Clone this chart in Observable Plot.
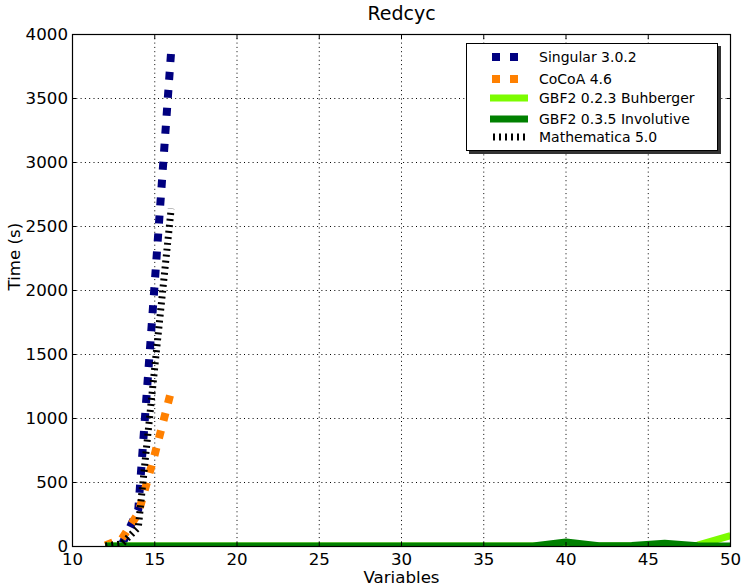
<!DOCTYPE html>
<html>
<head>
<meta charset="utf-8">
<script src="https://cdn.jsdelivr.net/npm/d3@7"></script>
<script src="https://cdn.jsdelivr.net/npm/@observablehq/plot@0.6"></script>
<style>
  body { margin: 0; background: white; }
  #wrap { position: relative; width: 742px; height: 586px; font-family: "DejaVu Sans", sans-serif; }
  #legend { position: absolute; left: 466px; top: 43px; width: 250px; height: 106px;
    border: 1px solid black; background: white; box-shadow: 3px 3px 0 #333; }
  #legend .row { position: absolute; left: 0; height: 20px; width: 250px; }
  #legend svg { position: absolute; left: 0; top: 0; }
  #legend span { position: absolute; left: 72px; top: 0; line-height: 20px; font-size: 14px; color: black; white-space: nowrap; }
</style>
</head>
<body>
<div id="wrap"></div>
<script>
// ---- data ----
const xTicks = [10, 15, 20, 25, 30, 35, 40, 45, 50];
const yTicks = [0, 500, 1000, 1500, 2000, 2500, 3000, 3500, 4000];

const smallX = [12, 13, 14, 15, 16];
const singular = [1, 15, 290, 2060, 3875];
const cocoa = [8, 60, 260, 720, 1215];
const mathematica = [5, 20, 150, 1400, 2640];

const gbfX = [12, 14, 16, 18, 20, 22, 24, 26, 28, 30, 32, 34, 36, 38, 40, 42, 44, 46, 48, 50];
const buhberger = [3, 3, 3, 3, 3, 3, 3, 3, 3, 3, 3, 3, 3, 3, 3, 3, 3, 3, 10, 85];
const involutive = [4, 4, 4, 4, 4, 4, 4, 4, 4, 4, 4, 4, 4, 4, 35, 6, 8, 25, 6, 4];

const seriesNames = ["Singular 3.0.2", "CoCoA 4.6", "GBF2 0.2.3 Buhberger", "GBF2 0.3.5 Involutive", "Mathematica 5.0"];
const seriesColors = ["#000080", "#ff8000", "#7cfc00", "#008000", "#000000"];

const titleText = "Redcyc";
const xLabel = "Variables";
const yLabel = "Time (s)";

// ---- build tables ----
const toRows = (xs, ys) => xs.map((x, i) => ({x, y: ys[i]}));
const singularRows = toRows(smallX, singular);
const cocoaRows = toRows(smallX, cocoa);
const mathRows = toRows(smallX, mathematica);
const buhRows = toRows(gbfX, buhberger);
const invRows = toRows(gbfX, involutive);

const lineStyles = [
  {strokeWidth: 8, strokeDasharray: "8,10", strokeLinecap: "butt"},
  {strokeWidth: 8, strokeDasharray: "8,10", strokeLinecap: "butt"},
  {strokeWidth: 7, strokeLinecap: "butt"},
  {strokeWidth: 7, strokeLinecap: "butt"},
  {strokeWidth: 7, strokeDasharray: "2,4", strokeLinecap: "butt"}
];
// legend swatch extents (px inside legend box)
const swatchX = [[25, 52], [25, 52], [23, 61], [23, 61], [26, 58]];

const grid = {stroke: "black", strokeOpacity: 1, strokeWidth: 1, strokeDasharray: "1,3.3"};
const plain = d => String(d);

const chart = Plot.plot({
  width: 742,
  height: 586,
  marginLeft: 72,
  marginRight: 12,
  marginTop: 34,
  marginBottom: 40,
  style: {fontFamily: "DejaVu Sans, sans-serif", fontSize: "16.67px", background: "white", color: "black", overflow: "visible"},
  x: {domain: [10, 50]},
  y: {domain: [0, 4000]},
  marks: [
    Plot.gridX(xTicks, grid),
    Plot.gridY(yTicks, grid),
    Plot.line(singularRows, {x: "x", y: "y", stroke: seriesColors[0], clip: true, ...lineStyles[0]}),
    Plot.line(cocoaRows, {x: "x", y: "y", stroke: seriesColors[1], clip: true, ...lineStyles[1]}),
    Plot.line(buhRows, {x: "x", y: "y", stroke: seriesColors[2], clip: true, ...lineStyles[2]}),
    Plot.line(invRows, {x: "x", y: "y", stroke: seriesColors[3], clip: true, ...lineStyles[3]}),
    Plot.line(mathRows, {x: "x", y: "y", stroke: seriesColors[4], clip: true, ...lineStyles[4]}),
    Plot.frame({stroke: "black", strokeWidth: 1.2}),
    Plot.axisX(xTicks, {anchor: "bottom", tickSize: -4, tickPadding: 11, tickFormat: plain, label: null, fontSize: 16.67}),
    Plot.axisX(xTicks, {anchor: "top", tickSize: -4, tickFormat: () => "", label: null}),
    Plot.axisY(yTicks, {anchor: "left", tickSize: -4, tickPadding: 8.5, tickFormat: plain, label: null, fontSize: 16.67}),
    Plot.axisY(yTicks, {anchor: "right", tickSize: -4, tickFormat: () => "", label: null}),
    Plot.text([titleText], {frameAnchor: "top", dy: -15, lineAnchor: "bottom", text: d => d, fontSize: 19}),
    Plot.text([xLabel], {frameAnchor: "bottom", dy: 36, lineAnchor: "bottom", text: d => d, fontSize: 16.67}),
    Plot.text([yLabel], {frameAnchor: "left", dx: -53, rotate: -90, lineAnchor: "bottom", text: d => d, fontSize: 16.67})
  ]
});

const wrap = document.getElementById("wrap");
wrap.appendChild(chart);

// ---- legend overlay ----
const legend = document.createElement("div");
legend.id = "legend";
const rowTops = [3, 25, 44, 65, 83];
const svgNS = "http://www.w3.org/2000/svg";
seriesNames.forEach((name, i) => {
  const row = document.createElement("div");
  row.className = "row";
  row.style.top = rowTops[i] + "px";
  const st = lineStyles[i];
  const svg = document.createElementNS(svgNS, "svg");
  svg.setAttribute("width", "70");
  svg.setAttribute("height", "20");
  const ln = document.createElementNS(svgNS, "line");
  ln.setAttribute("x1", swatchX[i][0]);
  ln.setAttribute("x2", swatchX[i][1]);
  ln.setAttribute("y1", 10);
  ln.setAttribute("y2", 10);
  ln.setAttribute("stroke", seriesColors[i]);
  ln.setAttribute("stroke-width", st.strokeWidth);
  if (st.strokeDasharray) ln.setAttribute("stroke-dasharray", st.strokeDasharray);
  svg.appendChild(ln);
  row.appendChild(svg);
  const span = document.createElement("span");
  span.textContent = name;
  row.appendChild(span);
  legend.appendChild(row);
});
wrap.appendChild(legend);
</script>
</body>
</html>
